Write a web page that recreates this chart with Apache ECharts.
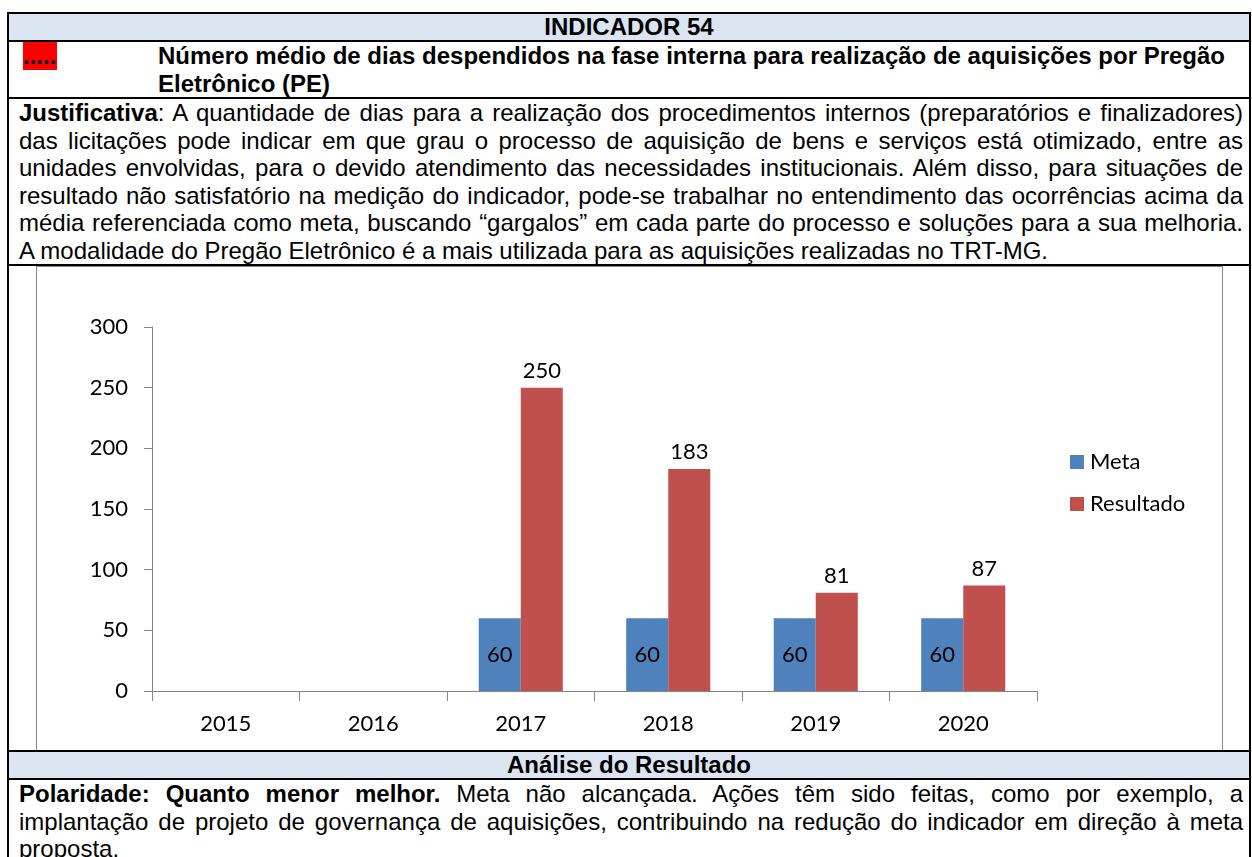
<!DOCTYPE html>
<html>
<head>
<meta charset="utf-8">
<script src="https://cdn.jsdelivr.net/npm/echarts@6/dist/echarts.min.js"></script>
<style>
body {
  margin: 0;
  background: #fff;
  width: 1252px;
  height: 857px;
  overflow: hidden;
  position: relative;
  font-family: "Liberation Sans", Arial, sans-serif;
  font-size: 24px;
  color: #000;
}
.hl { position: absolute; left: 7px; width: 1244px; height: 2px; background: #000; }
.vl { position: absolute; top: 12px; width: 2px; height: 845px; background: #000; }
.band {
  position: absolute;
  left: 9px;
  width: 1240px;
  height: 26px;
  line-height: 26px;
  background: #dbe5f1;
  text-align: center;
  font-weight: bold;
}
.txt { position: absolute; left: 19px; width: 1224px; line-height: 27.6px; }
.txt div { text-align: justify; text-align-last: justify; }
.txt div.last { text-align-last: left; }
#red {
  position: absolute; left: 23px; top: 42px; width: 34px; height: 27.6px;
  line-height: 27.6px; background: #ff0000; font-weight: bold; overflow: hidden;
}
#title { position: absolute; left: 158px; top: 42px; width: 1090px; line-height: 27.6px; font-weight: bold; }
#chart {
  position: absolute; left: 36px; top: 266px; width: 1187px; height: 484px;
  box-sizing: border-box;
  border: 1px solid #868686; border-bottom: none;
}
</style>
</head>
<body>
<div class="band" style="top:14px">INDICADOR 54</div>
<div id="red">.....</div>
<div id="title">Número médio de dias despendidos na fase interna para realização de aquisições por Pregão<br>Eletrônico (PE)</div>

<div class="txt" style="top:99px">
  <div><b>Justificativa</b>: A quantidade de dias para a realização dos procedimentos internos (preparatórios e finalizadores)</div>
  <div>das licitações pode indicar em que grau o processo de aquisição de bens e serviços está otimizado, entre as</div>
  <div>unidades envolvidas, para o devido atendimento das necessidades institucionais. Além disso, para situações de</div>
  <div>resultado não satisfatório na medição do indicador, pode-se trabalhar no entendimento das ocorrências acima da</div>
  <div>média referenciada como meta, buscando “gargalos” em cada parte do processo e soluções para a sua melhoria.</div>
  <div class="last">A modalidade do Pregão Eletrônico é a mais utilizada para as aquisições realizadas no TRT-MG.</div>
</div>

<div id="chart"></div>

<div class="band" style="top:752px">Análise do Resultado</div>
<div class="txt" style="top:780px">
  <div><b>Polaridade: Quanto menor melhor.</b> Meta não alcançada. Ações têm sido feitas, como por exemplo, a</div>
  <div>implantação de projeto de governança de aquisições, contribuindo na redução do indicador em direção à meta</div>
  <div class="last">proposta.</div>
</div>

<div class="hl" style="top:12px"></div>
<div class="hl" style="top:40px"></div>
<div class="hl" style="top:97px"></div>
<div class="hl" style="top:264px"></div>
<div class="hl" style="top:750px"></div>
<div class="hl" style="top:778px"></div>
<div class="vl" style="left:7px"></div>
<div class="vl" style="left:1249px"></div>

<script>
// dados
const anos = ['2015', '2016', '2017', '2018', '2019', '2020'];
const meta = [null, null, 60, 60, 60, 60];
const resultado = [null, null, 250, 183, 81, 87];
const yMin = 0, yMax = 300, yStep = 50;

const fonte = 'Lato, "Open Sans", sans-serif';
const cinza = '#868686';

const myChart = echarts.init(document.getElementById('chart'));
const option = {
  animation: false,
  textStyle: { fontFamily: fonte },
  grid: { left: 115, right: 185, top: 60, bottom: 59 },
  legend: {
    orient: 'vertical',
    left: 1028,
    top: 179,
    itemWidth: 14,
    itemHeight: 14,
    itemGap: 20,
    icon: 'rect',
    textStyle: { fontFamily: fonte, fontSize: 22, color: '#000', padding: [0, 0, 0, 1] },
    data: ['Meta', 'Resultado']
  },
  xAxis: {
    type: 'category',
    data: anos,
    axisLine: { lineStyle: { color: cinza, width: 1 } },
    axisTick: { show: true, length: 10, lineStyle: { color: cinza } },
    axisLabel: { fontFamily: fonte, fontSize: 22, color: '#000', margin: 22 }
  },
  yAxis: {
    type: 'value',
    min: yMin,
    max: yMax,
    interval: yStep,
    axisLine: { show: true, lineStyle: { color: cinza, width: 1 } },
    axisTick: { show: true, length: 8, lineStyle: { color: cinza } },
    splitLine: { show: false },
    axisLabel: { fontFamily: fonte, fontSize: 22, color: '#000', margin: 24 }
  },
  series: [
    {
      name: 'Meta',
      type: 'bar',
      data: meta,
      barGap: '0%',
      barCategoryGap: '43%',
      itemStyle: { color: '#4f81bd' },
      label: { show: true, position: 'inside', fontFamily: fonte, fontSize: 22, color: '#000' }
    },
    {
      name: 'Resultado',
      type: 'bar',
      data: resultado,
      itemStyle: { color: '#c0504d' },
      label: { show: true, position: 'top', distance: 6, fontFamily: fonte, fontSize: 22, color: '#000' }
    }
  ]
};
option && myChart.setOption(option);
</script>
</body>
</html>
